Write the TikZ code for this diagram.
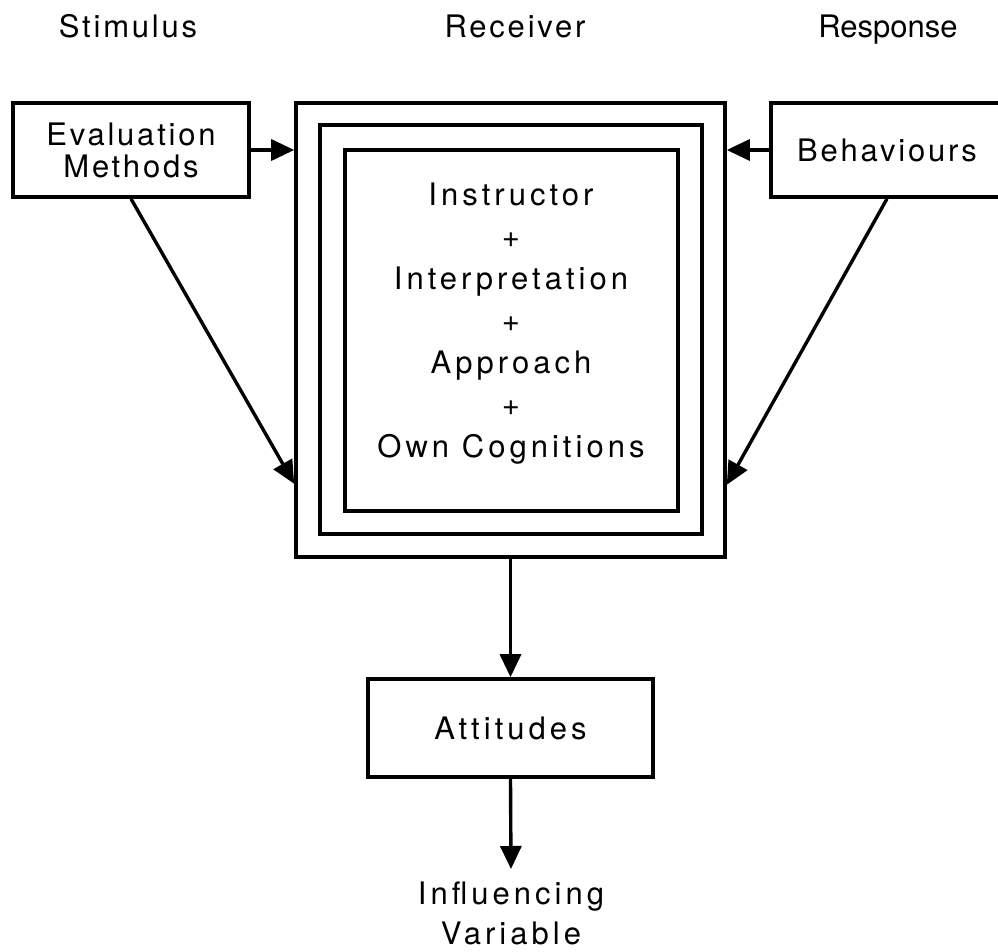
\documentclass[tikz,border=0pt]{standalone}
\usepackage{fontspec}
\setmainfont{TeX Gyre Heros}[LetterSpace=9]
\usepackage{tikz}
\usetikzlibrary{arrows.meta, positioning}

\tikzset{
    box/.style={draw, rectangle, line width=1.8pt, inner sep=0pt},
    head/.style={inner sep=0pt, anchor=base},
    wide/.style={execute at begin node={\addfontfeatures{LetterSpace=13}}},
    link/.style={line width=1.7pt, -{Triangle[length=11.5pt, width=10.5pt]}},
}

\begin{document}
\begin{tikzpicture}[x=0.5pt, y=-0.5pt, font={\fontsize{15.5}{21}\selectfont}]
    \useasboundingbox (0,0) rectangle (998,952);

    % column headings
    \node[head] (stim) at (128,38) {Stimulus};
    \node[head] (recv) at (515,38) {Receiver};
    \node[head] (resp) at (888,38) {\addfontfeatures{LetterSpace=0}Response};

    % receiver: three nested frames
    \node[box, minimum width=214.5pt, minimum height=227pt] (outer) at (510.5,330) {};
    \node[box, minimum width=191pt, minimum height=204.5pt] (middle) at (511,329.5) {};
    \node[box, minimum width=166.5pt, minimum height=180.5pt] (inner) at (511.5,330.5) {};
    \node[wide, align=center] (recvtext) at (511,324) {Instructor\\+\\Interpretation\\+\\Approach\\+\\Own Cognitions};

    % stimulus and response
    \node[box, minimum width=118pt, minimum height=47pt, align=center,
          font={\fontsize{15.5}{16}\selectfont}] (eval) at (131,150) {Evaluation\\Methods};
    \node[box, minimum width=116pt, minimum height=47pt] (behav) at (887,150) {Behaviours};

    % outcome
    \node[box, wide, minimum width=142.5pt, minimum height=49pt] (att) at (510.5,728) {Attitudes};
    \node[wide, align=center, anchor=north, inner xsep=0pt, inner ysep=6pt,
          font={\fontsize{15.5}{20}\selectfont}] (infl) at (511,869) {Influencing\\Variable};

    % connectors
    \draw[link] (eval.east) -- (outer.west |- eval.east);
    \draw[link] (behav.west) -- (outer.east |- behav.west);
    \draw[link] (eval.south) -- ([yshift=37.5pt]outer.south west);
    \draw[link] (behav.south) -- ([yshift=37pt]outer.south east);
    \draw[link] (outer.south) -- (att.north);
    \draw[link] (att.south) -- (infl.north);
\end{tikzpicture}
\end{document}
